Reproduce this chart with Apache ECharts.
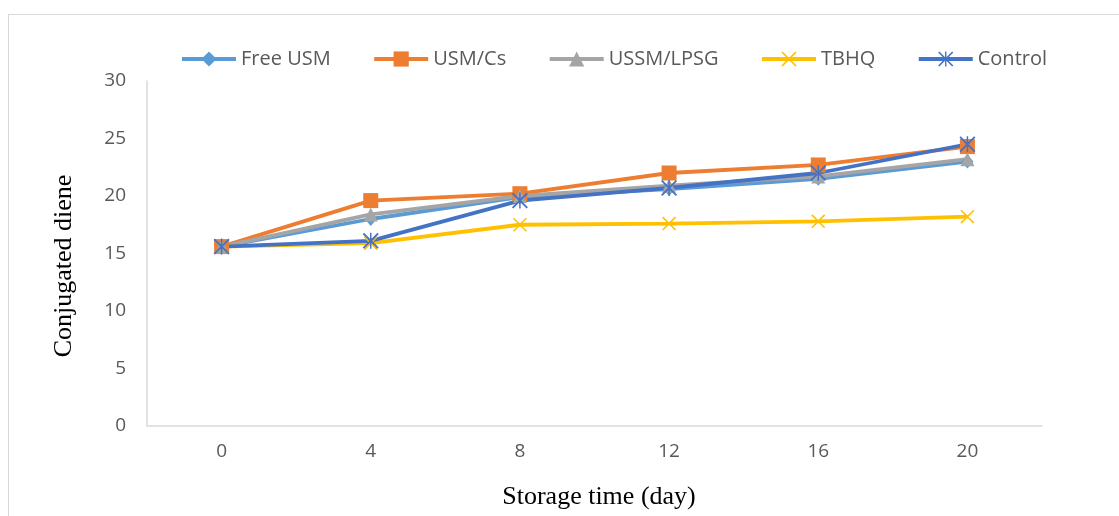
<!DOCTYPE html>
<html>
<head>
<meta charset="utf-8">
<script src="https://cdn.jsdelivr.net/npm/echarts@6/dist/echarts.min.js"></script>
<style>
  html, body { margin:0; padding:0; background:#fff; }
  #frame { position:absolute; left:8px; top:14px; width:1300px; height:700px; border:1px solid #d9d9d9; box-sizing:border-box; }
  #chart { position:absolute; left:0; top:0; width:1119px; height:516px; }
</style>
</head>
<body>
<div id="frame"></div>
<div id="chart"></div>
<script>
const categories = ['0', '4', '8', '12', '16', '20'];
const freeUSM   = [15.6, 18.0, 19.9, 20.6, 21.5, 23.0];
const usmCs     = [15.6, 19.6, 20.2, 22.0, 22.7, 24.3];
const ussmLPSG  = [15.6, 18.4, 20.0, 20.9, 21.7, 23.2];
const tbhq      = [15.6, 15.9, 17.5, 17.6, 17.8, 18.2];
const control   = [15.6, 16.1, 19.6, 20.7, 22.0, 24.5];
const yTicks = [0, 5, 10, 15, 20, 25, 30];

const xPath = 'path://M0,1.6L1.6,0L20,18.4L18.4,20Z M18.4,0L20,1.6L1.6,20L0,18.4Z';
const starPath = 'path://M0,1.6L1.6,0L20,18.4L18.4,20Z M18.4,0L20,1.6L1.6,20L0,18.4Z M9.1,0L10.9,0L10.9,20L9.1,20Z';

function mk(name, data, color, symbol, size) {
  return {
    name: name, type: 'line', data: data,
    symbol: symbol, symbolSize: size, symbolKeepAspect: true,
    showAllSymbol: true,
    lineStyle: { color: color, width: 3.8 },
    itemStyle: { color: color },
    emphasis: { disabled: true },
    animation: false
  };
}

const chart = echarts.init(document.getElementById('chart'), null, { renderer: 'canvas' });
chart.setOption({
  backgroundColor: 'transparent',
  animation: false,
  legend: {
    left: 175, top: 44,
    itemWidth: 54, itemHeight: 19, itemGap: 41.5,
    lineStyle: { width: 4 },
    textStyle: { fontFamily: 'Open Sans', fontSize: 20, color: '#595959' },
    data: ['Free USM', 'USM/Cs', 'USSM/LPSG', 'TBHQ', 'Control']
  },
  grid: { left: 147, right: 77, top: 81, bottom: 90, containLabel: false },
  xAxis: {
    type: 'category', data: categories, boundaryGap: true,
    axisLine: { lineStyle: { color: '#d9d9d9', width: 1.5 } },
    axisTick: { show: false },
    axisLabel: { fontFamily: 'Open Sans', fontSize: 19, color: '#595959', margin: 16 },
    splitLine: { show: false }
  },
  yAxis: {
    type: 'value', min: yTicks[0], max: yTicks[yTicks.length - 1], interval: 5,
    axisLine: { show: true, lineStyle: { color: '#d9d9d9', width: 1.5 } },
    axisTick: { show: false },
    axisLabel: { fontFamily: 'Open Sans', fontSize: 19, color: '#595959', margin: 21 },
    splitLine: { show: false }
  },
  graphic: [
    { type: 'text', x: 599, y: 497, style: { text: 'Storage time (day)', fontFamily: 'Liberation Serif', fontSize: 26, fill: '#000', align: 'center', verticalAlign: 'middle' } },
    { type: 'text', x: 64, y: 266, rotation: Math.PI / 2, style: { text: 'Conjugated diene', fontFamily: 'Liberation Serif', fontSize: 26, fill: '#000', align: 'center', verticalAlign: 'middle' } }
  ],
  series: [
    mk('Free USM', freeUSM, '#5B9BD5', 'diamond', [12, 14]),
    mk('USM/Cs', usmCs, '#ED7D31', 'rect', 15),
    mk('USSM/LPSG', ussmLPSG, '#A5A5A5', 'triangle', 14),
    mk('TBHQ', tbhq, '#FFC000', xPath, 14),
    mk('Control', control, '#4472C4', starPath, 16)
  ]
});
</script>
</body>
</html>
